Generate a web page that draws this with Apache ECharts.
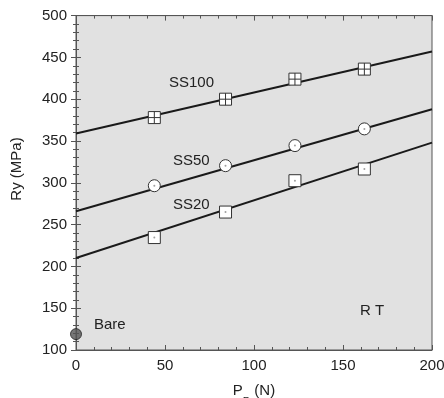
<!DOCTYPE html>
<html>
<head>
<meta charset="utf-8">
<script src="https://cdn.jsdelivr.net/npm/echarts@6/dist/echarts.min.js"></script>
<style>
  html, body { margin: 0; padding: 0; background: #fff; }
  #chart { width: 444px; height: 398px; }
</style>
</head>
<body>
<div id="chart"></div>
<script>
// Applied load P_P (N) for the shot-peened specimens
const loadsN = [44, 84, 123, 162];
// Yield strength Ry (MPa) per surface condition
const ss100 = [378, 400, 424, 436];
const ss50 = [296.5, 320.5, 344.5, 364.5];
const ss20 = [234.5, 265, 302.5, 316.5];
// Linear trend lines, evaluated at the axis ends
const fitX = [0, 200];
const ss100Fit = [359, 457];
const ss50Fit = [266, 388];
const ss20Fit = [210, 348];
// Untreated reference
const bareLoad = [0];
const bareRy = [119];
// Axis ranges
const xRange = [0, 200];
const yRange = [100, 500];

const FONT = 'Liberation Sans, Arial, sans-serif';
const INK = '#222';
const AXIS = '#555';

const pairs = (xs, ys) => xs.map((x, i) => [x, ys[i]]);

const crossSquare = 'path://M0,0H10V10H0ZM5,0V10M0,5H10';

const chart = echarts.init(document.getElementById('chart'), null, { renderer: 'canvas' });

const axisCommon = {
  type: 'value',
  axisLine: { show: true, lineStyle: { color: AXIS, width: 1 } },
  axisTick: { show: true, inside: true, length: 5, lineStyle: { color: AXIS } },
  minorTick: { show: true, splitNumber: 5, length: 3, lineStyle: { color: AXIS } },
  splitLine: { show: false },
};

const fitLine = (ys) => ({
  type: 'line',
  data: pairs(fitX, ys),
  symbol: 'none',
  lineStyle: { color: '#1a1a1a', width: 2 },
  silent: true,
  z: 2,
});

const markers = (ys, symbol) => ({
  type: 'scatter',
  data: pairs(loadsN, ys),
  symbol: symbol,
  symbolSize: 12,
  itemStyle: { color: '#fff', borderColor: '#333', borderWidth: 1, opacity: 1 },
  z: 3,
});

const centreDots = (ys) => ({
  type: 'scatter',
  data: pairs(loadsN, ys),
  symbol: 'circle',
  symbolSize: 2,
  itemStyle: { color: '#888' },
  z: 4,
});

chart.setOption({
  animation: false,
  grid: {
    left: 76, right: 12, top: 15.6, bottom: 48,
    containLabel: false,
    outerBoundsMode: 'none',
    show: true, backgroundColor: '#e1e1e1', borderColor: AXIS, borderWidth: 1,
  },
  xAxis: [
    Object.assign({}, axisCommon, {
      min: xRange[0], max: xRange[1], interval: 50,
      position: 'bottom',
      axisLabel: { color: INK, fontFamily: FONT, fontSize: 15, margin: 8 },
      name: '{m|P}{s|P}{m| (N)}',
      nameLocation: 'middle',
      nameGap: 33,
      nameTextStyle: {
        rich: {
          m: { fontFamily: FONT, fontSize: 15, color: INK },
          s: { fontFamily: FONT, fontSize: 11, color: INK, verticalAlign: 'bottom', padding: [0, 0, -9, 0] },
        },
      },
    }),
    Object.assign({}, axisCommon, {
      min: xRange[0], max: xRange[1], interval: 50,
      position: 'top',
      axisLabel: { show: false },
    }),
  ],
  yAxis: [
    Object.assign({}, axisCommon, {
      min: yRange[0], max: yRange[1], interval: 50,
      position: 'left',
      axisLabel: { color: INK, fontFamily: FONT, fontSize: 15, margin: 9 },
    }),
    Object.assign({}, axisCommon, {
      min: yRange[0], max: yRange[1], interval: 50,
      position: 'right',
      axisLabel: { show: false },
    }),
  ],
  series: [
    fitLine(ss100Fit),
    fitLine(ss50Fit),
    fitLine(ss20Fit),
    markers(ss100, crossSquare),
    markers(ss50, 'circle'),
    markers(ss20, 'rect'),
    centreDots(ss50),
    centreDots(ss20),
    {
      type: 'scatter',
      data: pairs(bareLoad, bareRy),
      symbol: 'circle',
      symbolSize: 11,
      clip: false,
      itemStyle: { color: '#555', borderColor: '#222', borderWidth: 1 },
      z: 5,
    },
  ],
  graphic: [
    {
      type: 'text', x: 17, y: 169, rotation: Math.PI / 2,
      style: { text: 'Ry (MPa)', font: '15px ' + FONT, fill: INK, align: 'center', verticalAlign: 'middle' },
    },
    { type: 'text', left: 169, top: 75.5, style: { text: 'SS100', font: '15px ' + FONT, fill: INK } },
    { type: 'text', left: 173, top: 153, style: { text: 'SS50', font: '15px ' + FONT, fill: INK } },
    { type: 'text', left: 173, top: 197.5, style: { text: 'SS20', font: '15px ' + FONT, fill: INK } },
    { type: 'text', left: 94, top: 317.5, style: { text: 'Bare', font: '15px ' + FONT, fill: INK } },
    { type: 'text', left: 360, top: 303.5, style: { text: 'R T', font: '15px ' + FONT, fill: INK } },
  ],
});
</script>
</body>
</html>
